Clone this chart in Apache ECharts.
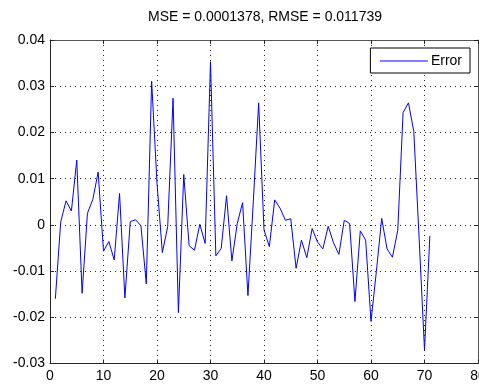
<!DOCTYPE html>
<html>
<head>
<meta charset="utf-8">
<script src="https://cdn.jsdelivr.net/npm/echarts@6/dist/echarts.min.js"></script>
<style>
html,body{margin:0;padding:0;background:#fff;}
#c{width:479px;height:386px;}
</style>
</head>
<body>
<div id="c"></div>
<script>
var titleText = 'MSE = 0.0001378, RMSE = 0.011739';
var seriesName = 'Error';
var xTicks = [0, 10, 20, 30, 40, 50, 60, 70, 80];
var yTicks = [-0.03, -0.02, -0.01, 0, 0.01, 0.02, 0.03, 0.04];
var errors = [
  -0.0160, 0.0006, 0.0052, 0.0030, 0.0140, -0.0148, 0.0025, 0.0055, 0.0114, -0.0057,
  -0.0036, -0.0076, 0.0068, -0.0158, 0.0007, 0.0011, -0.0002, -0.0128, 0.0311, 0.0090,
  -0.0060, -0.0004, 0.0274, -0.0190, 0.0109, -0.0045, -0.0055, 0.0001, -0.0040, 0.0353,
  -0.0067, -0.0051, 0.0063, -0.0078, 0.0003, 0.0048, -0.0153, 0.0050, 0.0264, -0.0011,
  -0.0047, 0.0054, 0.0036, 0.0010, 0.0013, -0.0094, -0.0033, -0.0071, -0.0008, -0.0037,
  -0.0052, -0.0003, -0.0039, -0.0064, 0.0010, 0.0003, -0.0166, -0.0013, -0.0033, -0.0209,
  -0.0101, 0.0014, -0.0052, -0.0070, -0.0012, 0.0243, 0.0264, 0.0202, -0.0030, -0.0271,
  -0.0024
];
var points = errors.map(function (v, i) { return [i + 1, v]; });

var font = 'Liberation Sans, Arial, sans-serif';
var axisColor = '#262626';
var xMin = xTicks[0], xMax = xTicks[xTicks.length - 1], xStep = xTicks[1] - xTicks[0];
var yMin = yTicks[0], yMax = yTicks[yTicks.length - 1], yStep = 0.01;

var chart = echarts.init(document.getElementById('c'), null, {renderer: 'canvas'});
chart.setOption({
  animation: false,
  backgroundColor: '#ffffff',
  title: {
    text: titleText,
    left: 265,
    top: 10,
    textAlign: 'center',
    padding: 0,
    textStyle: {fontFamily: font, fontSize: 14, fontWeight: 'normal', color: '#000'}
  },
  legend: {
    data: [seriesName],
    right: 9,
    top: 48,
    orient: 'vertical',
    backgroundColor: '#fff',
    borderColor: '#000',
    borderWidth: 1,
    borderRadius: 0,
    padding: [6, 8, 5, 9],
    itemWidth: 48,
    itemHeight: 14,
    itemGap: 0,
    itemStyle: {color: 'rgba(0,0,0,0)', borderColor: 'rgba(0,0,0,0)', borderWidth: 0, opacity: 0},
    lineStyle: {color: '#0000ff', width: 1},
    textStyle: {fontFamily: font, fontSize: 14, color: '#000', padding: [0, 0, 0, -2]}
  },
  grid: {left: 50, top: 40, width: 428, height: 323.5, containLabel: false, outerBoundsMode: 'none'},
  xAxis: [{
    type: 'value', min: xMin, max: xMax, interval: xStep,
    axisLine: {show: true, onZero: false, lineStyle: {color: axisColor, width: 1}},
    axisTick: {show: true, inside: true, length: 4, lineStyle: {color: axisColor}},
    axisLabel: {color: '#000', fontFamily: font, fontSize: 14, margin: 6},
    splitLine: {show: true, lineStyle: {color: '#222', type: [1, 4], width: 1}}
  }, {
    type: 'value', position: 'top', min: xMin, max: xMax, interval: xStep,
    axisLine: {show: true, onZero: false, lineStyle: {color: '#555', width: 1}},
    axisTick: {show: true, inside: true, length: 4, lineStyle: {color: axisColor}},
    axisLabel: {show: false},
    splitLine: {show: false}
  }],
  yAxis: [{
    type: 'value', min: yMin, max: yMax, interval: yStep,
    axisLine: {show: true, onZero: false, lineStyle: {color: axisColor, width: 1}},
    axisTick: {show: true, inside: true, length: 4, lineStyle: {color: axisColor}},
    axisLabel: {
      color: '#000', fontFamily: font, fontSize: 14, margin: 5,
      formatter: function (v) { return String(Math.round(v * 100) / 100); }
    },
    splitLine: {show: true, lineStyle: {color: '#222', type: [1, 4], width: 1}}
  }, {
    type: 'value', position: 'right', min: yMin, max: yMax, interval: yStep,
    axisLine: {show: true, onZero: false, lineStyle: {color: '#555', width: 1}},
    axisTick: {show: true, inside: true, length: 4, lineStyle: {color: axisColor}},
    axisLabel: {show: false},
    splitLine: {show: false}
  }],
  series: [{
    name: seriesName,
    type: 'line',
    xAxisIndex: 0,
    yAxisIndex: 0,
    data: points,
    showSymbol: false,
    symbol: 'none',
    color: '#0000ff',
    lineStyle: {color: '#0000ff', width: 1},
    emphasis: {disabled: true}
  }]
});
</script>
</body>
</html>
